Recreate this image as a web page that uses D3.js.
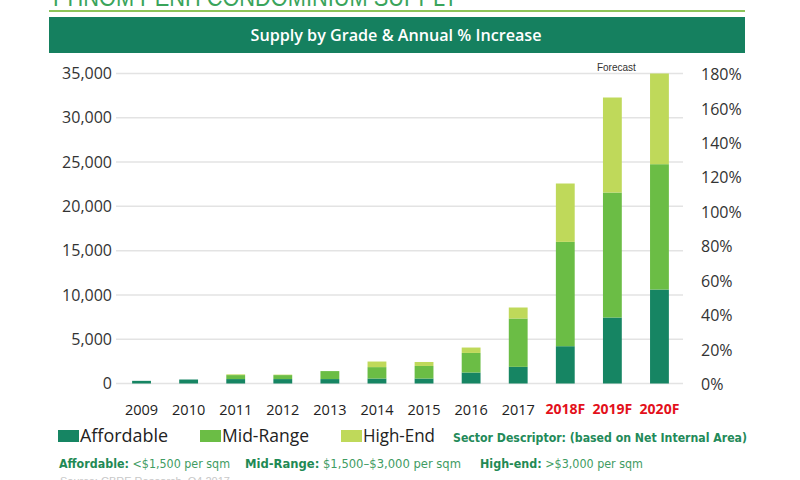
<!DOCTYPE html>
<html>
<head>
<meta charset="utf-8">
<script src="https://cdn.jsdelivr.net/npm/d3@7"></script>
<style>
  html, body { margin: 0; padding: 0; background: #fff; }
  svg { display: block; }
  .axis path, .axis line { display: none; }
</style>
</head>
<body>
<svg id="chart" width="800" height="480"></svg>
<script>
// ---- data ----
const years = ["2009","2010","2011","2012","2013","2014","2015","2016","2017","2018F","2019F","2020F"];
const forecastYears = ["2018F","2019F","2020F"];
const affordable = [300, 450, 500, 500, 500, 560, 560, 1240, 1880, 4210, 7450, 10610];
const midRange   = [0, 0, 450, 450, 900, 1290, 1420, 2210, 5460, 11780, 14110, 14150];
const highEnd    = [0, 0, 80, 50, 0, 630, 450, 610, 1240, 6590, 10730, 10240];
const seriesNames = ["Affordable", "Mid-Range", "High-End"];
const leftTicks = [0, 5000, 10000, 15000, 20000, 25000, 30000, 35000];
const rightTicks = [0, 20, 40, 60, 80, 100, 120, 140, 160, 180];

const colors = {"Affordable": "#168563", "Mid-Range": "#6bbd45", "High-End": "#bfd95a"};
const svg = d3.select("#chart");
const FONT = "'Open Sans', 'Noto Sans', sans-serif";
const NARROW = "'Liberation Sans Narrow', 'DejaVu Sans Condensed', 'Liberation Sans', sans-serif";

// ---- header ----
svg.append("text").attr("x", 53).attr("y", 6)
  .attr("font-family", "'Liberation Sans', Arial, sans-serif").attr("font-size", 26)
  .attr("fill", "#3aa45b").attr("textLength", 405).attr("lengthAdjust", "spacingAndGlyphs")
  .text("PHNOM PENH CONDOMINIUM SUPPLY");
svg.append("rect").attr("x", 49).attr("y", 10).attr("width", 696).attr("height", 2).attr("fill", "#8dc45a");
svg.append("rect").attr("x", 49).attr("y", 17).attr("width", 696).attr("height", 36).attr("fill", "#15805f");
svg.append("text").attr("x", 396).attr("y", 40.5).attr("text-anchor", "middle")
  .attr("font-family", FONT).attr("font-weight", 600).attr("font-size", 16)
  .attr("fill", "#fff").attr("textLength", 291).attr("lengthAdjust", "spacingAndGlyphs")
  .text("Supply by Grade & Annual % Increase");

// ---- scales ----
const x = d3.scaleBand().domain(years).range([118, 683]).paddingInner(0.6).paddingOuter(0.3);
const y = d3.scaleLinear().domain([0, 35000]).range([383.5, 73.5]);
const yR = d3.scaleLinear().domain([0, 180]).range([384.5, 74.5]);

// gridlines
svg.append("g").selectAll("line").data(leftTicks).join("line")
  .attr("x1", 116).attr("x2", 683)
  .attr("y1", d => y(d)).attr("y2", d => y(d))
  .attr("stroke", "#e3e3e3").attr("stroke-width", 1.5);

// stacked bars
const table = years.map((yr, i) => ({year: yr, "Affordable": affordable[i], "Mid-Range": midRange[i], "High-End": highEnd[i]}));
const stack = d3.stack().keys(seriesNames)(table);
svg.append("g").selectAll("g").data(stack).join("g")
  .attr("fill", d => colors[d.key])
  .selectAll("rect").data(d => d).join("rect")
  .attr("x", d => x(d.data.year))
  .attr("width", x.bandwidth())
  .attr("y", d => y(d[1]))
  .attr("height", d => y(d[0]) - y(d[1]));

// left axis
const gL = svg.append("g").attr("class", "axis").attr("transform", "translate(116,0)")
  .call(d3.axisLeft(y).tickValues(leftTicks).tickFormat(d3.format(",")).tickSize(0).tickPadding(4));
gL.selectAll("text").attr("font-family", FONT).attr("font-size", 16).attr("fill", "#333");

// right axis
const gR = svg.append("g").attr("class", "axis").attr("transform", "translate(690,0)")
  .call(d3.axisRight(yR).tickValues(rightTicks).tickFormat(d => d + "%").tickSize(0).tickPadding(11));
gR.selectAll("text").attr("font-family", FONT).attr("font-size", 16).attr("fill", "#333");

// bottom axis
const gB = svg.append("g").attr("class", "axis").attr("transform", "translate(0,400)")
  .call(d3.axisBottom(x).tickSize(0).tickPadding(0));
gB.selectAll("text")
  .attr("dy", "1.0em")
  .attr("font-family", FONT)
  .attr("font-size", d => forecastYears.includes(d) ? 14 : 14.5)
  .attr("font-weight", d => forecastYears.includes(d) ? 700 : 400)
  .attr("fill", d => forecastYears.includes(d) ? "#e3101b" : "#222");

// Forecast label
svg.append("text").attr("x", x("2019F") + x.bandwidth() / 2 + 4).attr("y", 71)
  .attr("text-anchor", "middle").attr("font-family", "'Liberation Sans', Arial, sans-serif")
  .attr("font-size", 10).attr("fill", "#333").text("Forecast");

// ---- legend ----
const legendX = [58, 200, 341];
const legendW = [88, 87, 72];
const lg = svg.append("g");
seriesNames.forEach((name, i) => {
  lg.append("rect").attr("x", legendX[i]).attr("y", 430).attr("width", 21).attr("height", 12).attr("fill", colors[name]);
  lg.append("text").attr("x", legendX[i] + 22).attr("y", 442)
    .attr("font-family", FONT).attr("font-size", 18.5).attr("fill", "#222")
    .attr("textLength", legendW[i]).attr("lengthAdjust", "spacingAndGlyphs").text(name);
});
svg.append("text").attr("x", 453).attr("y", 442)
  .attr("font-family", NARROW).attr("font-weight", 700).attr("font-size", 13)
  .attr("fill", "#238a59").attr("textLength", 294).attr("lengthAdjust", "spacingAndGlyphs")
  .text("Sector Descriptor: (based on Net Internal Area)");

// descriptor line
const desc = [
  {label: "Affordable:", text: " <$1,500 per sqm", x: 59, w: 171},
  {label: "Mid-Range:", text: " $1,500\u2013$3,000 per sqm", x: 245, w: 216},
  {label: "High-end:", text: " >$3,000 per sqm", x: 480, w: 163}
];
desc.forEach(d => {
  const t = svg.append("text").attr("x", d.x).attr("y", 468)
    .attr("font-family", NARROW).attr("font-size", 13)
    .attr("textLength", d.w).attr("lengthAdjust", "spacingAndGlyphs");
  t.append("tspan").attr("font-weight", 700).attr("fill", "#1f8a55").text(d.label);
  t.append("tspan").attr("fill", "#3f9c63").text(d.text);
});

// faint source (cut off at bottom, as in the reference)
svg.append("text").attr("x", 60).attr("y", 485)
  .attr("font-family", "'Liberation Sans', Arial, sans-serif").attr("font-size", 11)
  .attr("fill", "#c8c8c8").text("Source: CBRE Research, Q4 2017");
</script>
</body>
</html>
